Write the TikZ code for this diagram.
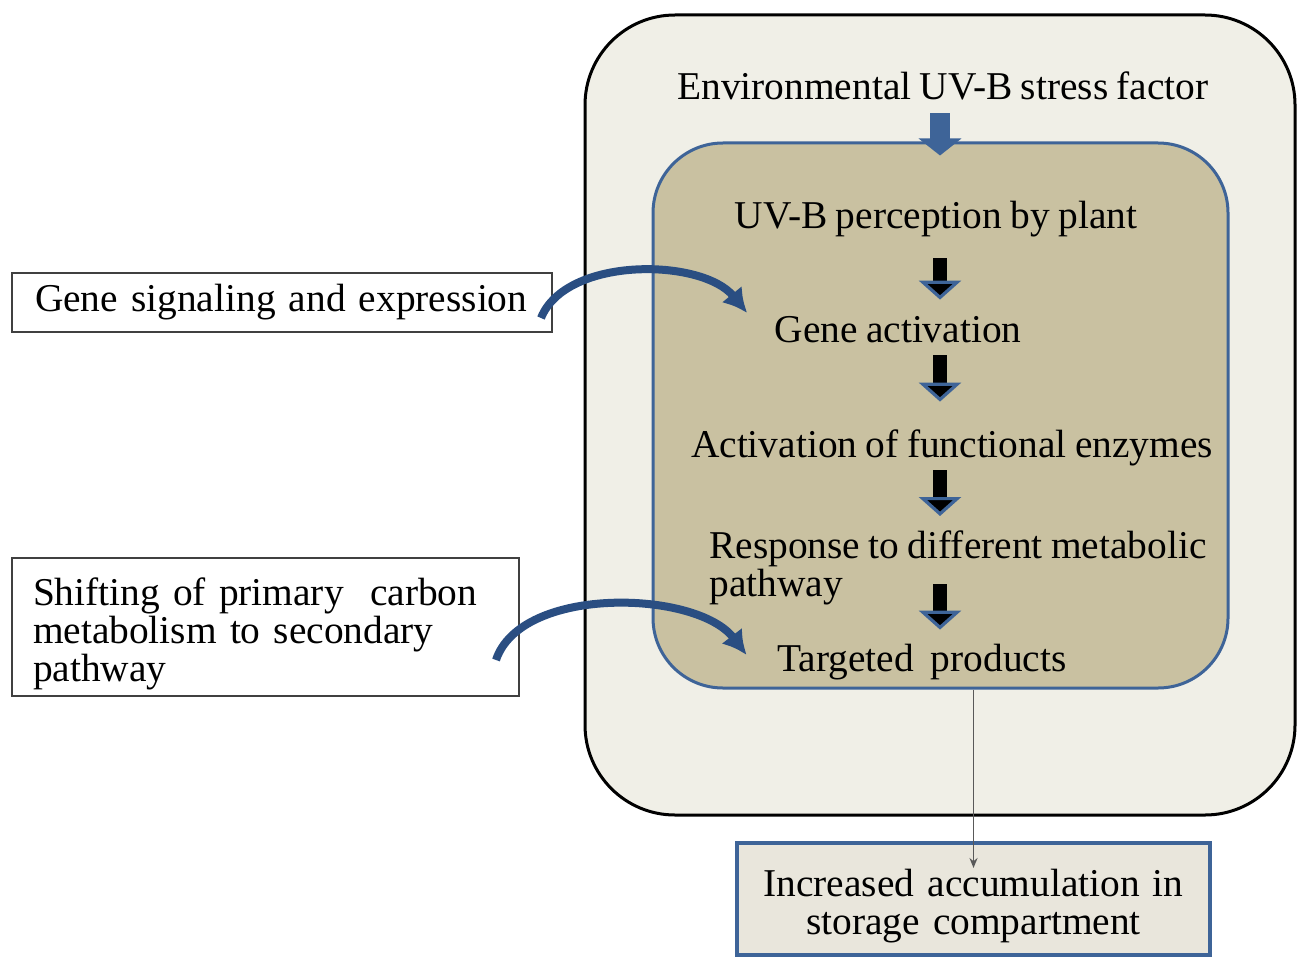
\documentclass[tikz,border=0pt]{standalone}
\usepackage{fontspec}
\setmainfont{Liberation Serif}[WordSpace=0.85]
\usetikzlibrary{arrows.meta}

\definecolor{outerfill}{RGB}{240,239,231}
\definecolor{innerfill}{RGB}{201,193,161}
\definecolor{uvblue}{RGB}{62,100,152}
\definecolor{darkblue}{RGB}{42,78,130}
\definecolor{storefill}{RGB}{233,230,220}
\newcommand{\upstrut}{\rule{0pt}{20.5pt}}

\begin{document}
\begin{tikzpicture}[x=0.5pt, y=-0.5pt, font=\fontsize{19.7}{19}\selectfont]
    \tikzstyle{outerbox} = [rectangle, draw=black, line width=1.5pt, fill=outerfill,
        rounded corners=45pt, minimum width=355pt, minimum height=400pt]
    \tikzstyle{innerbox} = [rectangle, draw=uvblue, line width=1.5pt, fill=innerfill,
        rounded corners=35pt, minimum width=287.5pt, minimum height=272.5pt]
    \tikzstyle{steptext} = [inner sep=2pt, text height=14pt, text depth=4.5pt]
    \tikzstyle{sidebox} = [rectangle, draw=black!75, line width=1pt, fill=white,
        align=left]
    \tikzstyle{storebox} = [rectangle, draw=uvblue, line width=2pt, fill=storefill,
        align=center, text width=220pt, minimum width=236.5pt, minimum height=56pt]
    \tikzstyle{envarrow} = [draw=uvblue, line width=10pt,
        -{Triangle[width=21pt, length=8.5pt, fill=uvblue]}]
    \tikzstyle{steparrow} = [draw=black, line width=7pt,
        -{Triangle[width=21pt, length=9.5pt, line width=1.6pt, color=uvblue, fill=black]}]
    \tikzstyle{curved} = [draw=darkblue, line width=4pt,
        -{Latex[length=12pt, width=13pt]}]
    \tikzstyle{thinline} = [draw=black!65, line width=0.9pt,
        -{Stealth[length=5pt, width=4pt]}]

    \useasboundingbox (0,0) rectangle (1304,957);

    % containers
    \node [outerbox] (outer) at (940,415) {};
    \node [innerbox] (inner) at (940.5,415.5) {};

    % steps
    \node [steptext] (env) at (943,90.5) {Environmental UV-B stress factor};
    \node [steptext] (perc) at (936,218.5) {UV-B perception by plant};
    \node [steptext] (geneact) at (898,332.5) {Gene activation};
    \node [steptext] (enzymes) at (952,447.5) {Activation of functional enzymes};
    \node [inner sep=2pt, align=left, anchor=north west] (response) at (705,526)
        {Response to different metabolic\\pathway};
    \node [steptext] (targeted) at (922,661.5) {Targeted\ \ products};

    % side boxes
    \node [sidebox, text width=247pt, inner xsep=11.5pt, minimum height=29.5pt]
        (genebox) at (282,302.5) {Gene signaling and expression};
    \node [sidebox, text width=232.5pt, inner xsep=10.5pt, minimum height=69pt]
        (shiftbox) at (265.5,627) {\upstrut Shifting of primary\ \ carbon\\
        metabolism to secondary\\ pathway};
    \node [storebox] (storage) at (973.5,899)
        {\upstrut Increased accumulation in\\ storage compartment};

    % flow
    \coordinate (ax) at (940,0);
    \path [envarrow] (ax |- env.south) -- ([yshift=-7pt]ax |- inner.north);
    \path [steparrow, shorten <=8.5pt, shorten >=5pt] (ax |- perc.south) -- (ax |- geneact.north);
    \path [steparrow, shorten >=11.5pt] (ax |- geneact.south) -- (ax |- enzymes.north);
    \path [steparrow, shorten >=5pt] (ax |- enzymes.south) -- (ax |- response.north);
    \path [steparrow, shorten <=-12.5pt, shorten >=4.5pt] (ax |- response.south) -- (ax |- targeted.north);

    \path [curved] ([xshift=-6pt, yshift=-7.75pt]genebox.east)
        .. controls +(25,-62) and +(-45,-55) .. ([xshift=-11.5pt, yshift=9.75pt]geneact.west);
    \path [curved] ([xshift=-12pt, yshift=-16.5pt]shiftbox.east)
        .. controls +(25,-75) and +(-50,-65) .. ([xshift=-13.25pt, yshift=3.25pt]targeted.west);

    \path [thinline] (inner.south -| storage.north) -- ([yshift=-13.5pt]storage.north);
\end{tikzpicture}
\end{document}
